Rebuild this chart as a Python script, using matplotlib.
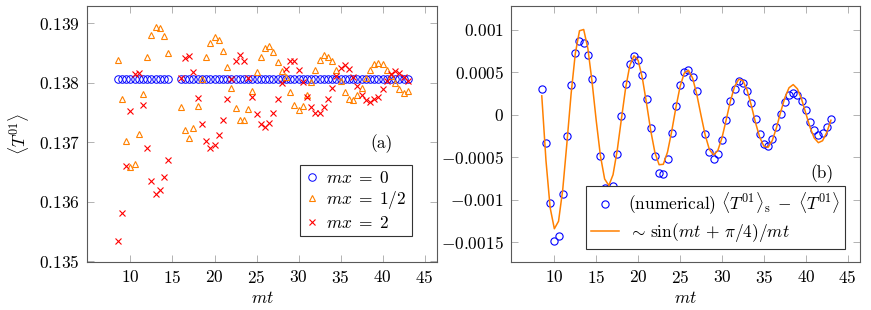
import matplotlib
matplotlib.use("Agg")
import matplotlib.pyplot as plt
from matplotlib.ticker import FuncFormatter

# --- DATA ---
t_left = [8.5, 9.0, 9.5, 10.0, 10.5, 11.0, 11.5, 12.0, 12.5, 13.0, 13.5, 14.0, 14.5,
          16.0, 16.5, 17.0, 17.5, 18.0, 18.5, 19.0, 19.5, 20.0, 20.5,
          21.0, 21.5, 22.0, 22.5, 23.0, 23.5, 24.0, 24.5, 25.0, 25.5,
          26.0, 26.5, 27.0, 27.5, 28.0, 28.5, 29.0, 29.5, 30.0, 30.5,
          31.0, 31.5, 32.0, 32.5, 33.0, 33.5, 34.0, 34.5, 35.0, 35.5,
          36.0, 36.5, 37.0, 37.5, 38.0, 38.5, 39.0, 39.5, 40.0, 40.5,
          41.0, 41.5, 42.0, 42.5, 43.0]

mx_0 = [0.13806, 0.13806, 0.13806, 0.13806, 0.13806, 0.13806, 0.13806, 0.13806, 0.13806, 0.13806, 0.13806, 0.13806, 0.13806,
        0.13806, 0.13806, 0.13806, 0.13806, 0.13806, 0.13806, 0.13806, 0.13806, 0.13806, 0.13806,
        0.13806, 0.13806, 0.13806, 0.13806, 0.13806, 0.13806, 0.13806, 0.13806, 0.13806, 0.13806,
        0.13806, 0.13806, 0.13806, 0.13806, 0.13806, 0.13806, 0.13806, 0.13806, 0.13806, 0.13806,
        0.13806, 0.13806, 0.13806, 0.13806, 0.13806, 0.13806, 0.13806, 0.13806, 0.13806, 0.13806,
        0.13806, 0.13806, 0.13806, 0.13806, 0.13806, 0.13806, 0.13806, 0.13806, 0.13806, 0.13806,
        0.13806, 0.13806, 0.13806, 0.13806, 0.13806]

mx_half = [0.13838, 0.13773, 0.13703, 0.13659, 0.13664, 0.13714, 0.13782, 0.13843, 0.13880, 0.13894, 0.13892, 0.13879, 0.13850,
           0.13759, 0.13721, 0.13707, 0.13724, 0.13761, 0.13806, 0.13843, 0.13867, 0.13877, 0.13872,
           0.13854, 0.13826, 0.13792, 0.13758, 0.13738, 0.13737, 0.13756, 0.13786, 0.13818, 0.13843,
           0.13858, 0.13861, 0.13852, 0.13835, 0.13820, 0.13809, 0.13785, 0.13763, 0.13755, 0.13761,
           0.13779, 0.13801, 0.13822, 0.13838, 0.13846, 0.13844, 0.13836, 0.13821, 0.13803, 0.13785,
           0.13773, 0.13771, 0.13779, 0.13792, 0.13808, 0.13822, 0.13832, 0.13834, 0.13831, 0.13822,
           0.13811, 0.13799, 0.13789, 0.13783, 0.13786]

mx_2 = [0.13535, 0.13582, 0.13660, 0.13752, 0.13815, 0.13816, 0.13762, 0.13690, 0.13635, 0.13614, 0.13620, 0.13641, 0.13670,
        0.13808, 0.13841, 0.13845, 0.13819, 0.13775, 0.13731, 0.13702, 0.13690, 0.13695, 0.13712,
        0.13738, 0.13773, 0.13807, 0.13836, 0.13847, 0.13836, 0.13808, 0.13776, 0.13748, 0.13731,
        0.13726, 0.13733, 0.13749, 0.13773, 0.13800, 0.13824, 0.13836, 0.13836, 0.13821, 0.13801,
        0.13777, 0.13759, 0.13750, 0.13750, 0.13759, 0.13773, 0.13792, 0.13811, 0.13825, 0.13830,
        0.13824, 0.13810, 0.13795, 0.13780, 0.13771, 0.13767, 0.13772, 0.13777, 0.13789, 0.13803,
        0.13814, 0.13820, 0.13817, 0.13810, 0.13803]

t_num = [8.5, 9.0, 9.5, 10.0, 10.5, 11.0, 11.5, 12.0, 12.5, 13.0, 13.5, 14.0, 14.5,
         15.5, 16.0, 17.0, 17.5, 18.0, 18.5, 19.0, 19.5, 20.0, 20.5,
         21.0, 21.5, 22.0, 22.5, 23.0, 23.5, 24.0, 24.5, 25.0, 25.5,
         26.0, 26.5, 27.0, 28.0, 28.5, 29.0, 29.5, 30.0, 30.5,
         31.0, 31.5, 32.0, 32.5, 33.0, 33.5, 34.0, 34.5, 35.0, 35.5,
         36.0, 36.5, 37.0, 37.5, 38.0, 38.5, 39.0, 39.5, 40.0, 40.5,
         41.0, 41.5, 42.0, 42.5, 43.0]

diff_num = [0.000306, -0.000333, -0.00104, -0.00148, -0.00143, -0.00093, -0.000243, 0.000353, 0.000726, 0.000867, 0.00085, 0.000706, 0.000424,
            -0.000478, -0.000863, -0.000835, -0.000459, -0.000012, 0.00036, 0.0006, 0.000694, 0.00065, 0.000474,
            0.000192, -0.000153, -0.000482, -0.000686, -0.000694, -0.000514, -0.000212, 0.000102, 0.000353, 0.000502,
            0.000533, 0.000447, 0.000286, -0.000224, -0.000432, -0.000522, -0.000463, -0.000294, -0.000059,
            0.000165, 0.000302, 0.0004, 0.00038, 0.000286, 0.000137, -0.000047, -0.000227, -0.000341, -0.000361,
            -0.000282, -0.000141, 0.000015, 0.000153, 0.000235, 0.000262, 0.000239, 0.000168, 0.000055, -0.000079,
            -0.00018, -0.000235, -0.000212, -0.000145, -0.000047]

t_fit = [8.5, 9.0, 9.5, 10.0, 10.5, 11.0, 11.5, 12.0, 12.5, 13.0, 13.5, 14.0, 14.5, 15.0, 15.5,
         16.0, 16.5, 17.0, 17.5, 18.0, 18.5, 19.0, 19.5, 20.0, 20.5,
         21.0, 21.5, 22.0, 22.5, 23.0, 23.5, 24.0, 24.5, 25.0, 25.5,
         26.0, 26.5, 27.0, 27.5, 28.0, 28.5, 29.0, 29.5, 30.0, 30.5,
         31.0, 31.5, 32.0, 32.5, 33.0, 33.5, 34.0, 34.5, 35.0, 35.5,
         36.0, 36.5, 37.0, 37.5, 38.0, 38.5, 39.0, 39.5, 40.0, 40.5,
         41.0, 41.5, 42.0, 42.5, 43.0]

diff_fit = [0.000224, -0.000537, -0.001092, -0.001339, -0.001251, -0.000879, -0.00033, 0.000248, 0.000722, 0.000989, 0.001004, 0.00078, 0.000388, -0.000071, -0.000483,
            -0.000754, -0.00083, -0.000704, -0.000418, -0.000049, 0.000313, 0.00058, 0.000696, 0.00064, 0.000433,
            0.000134, -0.000185, -0.000444, -0.000586, -0.000581, -0.000438, -0.000194, 0.000085, 0.000333, 0.000491,
            0.000525, 0.000432, 0.000238, -0.000006, -0.000239, -0.000408, -0.000472, -0.00042, -0.00027, -0.000059,
            0.00016, 0.000332, 0.000419, 0.000403, 0.00029, 0.00011, -0.000091, -0.000263, -0.000369, -0.000381,
            -0.000302, -0.000151, 0.000032, 0.000202, 0.000319, 0.000356, 0.000306, 0.000183, 0.000019, -0.000145,
            -0.000271, -0.000327, -0.000304, -0.000207, -0.000063]

# --- STYLE ---
plt.rcParams['mathtext.fontset'] = 'cm'
plt.rcParams['font.family'] = 'serif'
plt.rcParams['font.serif'] = ['cmr10']
plt.rcParams['axes.formatter.use_mathtext'] = True
FS = 12.5
BLUE = (0, 0, 1)
ORANGE = (1, 0.5, 0)
RED = (1, 0, 0)

fig = plt.figure(figsize=(8.71, 3.10), dpi=100)
ax1 = fig.add_axes([0.0999, 0.1548, 0.4018, 0.8258])
ax2 = fig.add_axes([0.5867, 0.1548, 0.4007, 0.8258])

fmt = FuncFormatter(lambda v, p: f'${v:g}$')

def style_axis(ax):
    for s in ax.spines.values():
        s.set_color('0.35')
        s.set_linewidth(0.8)
    ax.tick_params(direction='in', length=5, width=0.6, color='0.65',
                   top=True, right=True, labelsize=FS, pad=5)
    ax.xaxis.set_major_formatter(fmt)
    ax.yaxis.set_major_formatter(fmt)
    ax.set_xticks([10, 15, 20, 25, 30, 35, 40, 45])
    ax.set_xlim(4.83, 46.47)
    ax.set_xlabel('$mt$', fontsize=FS, labelpad=3)

# PLOT 1
ax1.plot(t_left, mx_0, 'o', ls='none', mfc='none', mec=BLUE, ms=5.4, mew=0.7, label=r'$mx\;=\;0$')
ax1.plot(t_left, mx_half, '^', ls='none', mfc='none', mec=ORANGE, ms=4.8, mew=0.8, label=r'$mx\;=\;1/2$')
ax1.plot(t_left, mx_2, 'x', ls='none', color=RED, ms=4.2, mew=0.8, label=r'$mx\;=\;2$')
style_axis(ax1)
ax1.set_yticks([0.135, 0.136, 0.137, 0.138, 0.139])
ax1.set_ylim(0.13499, 0.13929)
ax1.set_ylabel(r'$\langle T^{01}\rangle$', fontsize=FS, labelpad=6)
ax1.text(0.842, 0.461, '(a)', transform=ax1.transAxes, fontsize=FS, ha='center', va='center')
leg1 = ax1.legend(loc='lower left', bbox_to_anchor=(0.609, 0.102), borderaxespad=0,
                  fontsize=FS, fancybox=False, edgecolor='0.2', framealpha=1,
                  handlelength=0.8, handletextpad=0.4, borderpad=0.3, labelspacing=0.2)
leg1.get_frame().set_linewidth(0.8)

# PLOT 2
ax2.plot(t_num, diff_num, 'o', ls='none', mfc='none', mec=BLUE, ms=5.2, mew=0.8,
         label=r'(numerical) $\langle T^{01}\rangle_{\mathrm{s}} \;-\; \langle T^{01}\rangle$')
ax2.plot(t_fit, diff_fit, '-', color=ORANGE, lw=1.1, label=r'$\sim\, \sin(mt \,+\, \pi/4)/mt$')
style_axis(ax2)
ax2.set_yticks([-0.0015, -0.001, -0.0005, 0, 0.0005, 0.001])
ax2.set_ylim(-0.00173, 0.00128)
ax2.text(0.89, 0.344, '(b)', transform=ax2.transAxes, fontsize=FS, ha='center', va='center')
leg2 = ax2.legend(loc='lower left', bbox_to_anchor=(0.215, 0.051), borderaxespad=0,
                  fontsize=FS, fancybox=False, edgecolor='0.2', framealpha=1,
                  handlelength=1.6, handletextpad=0.5, borderpad=0.3, labelspacing=0.2)
leg2.get_frame().set_linewidth(0.8)

fig.savefig('out.png', dpi=100)
